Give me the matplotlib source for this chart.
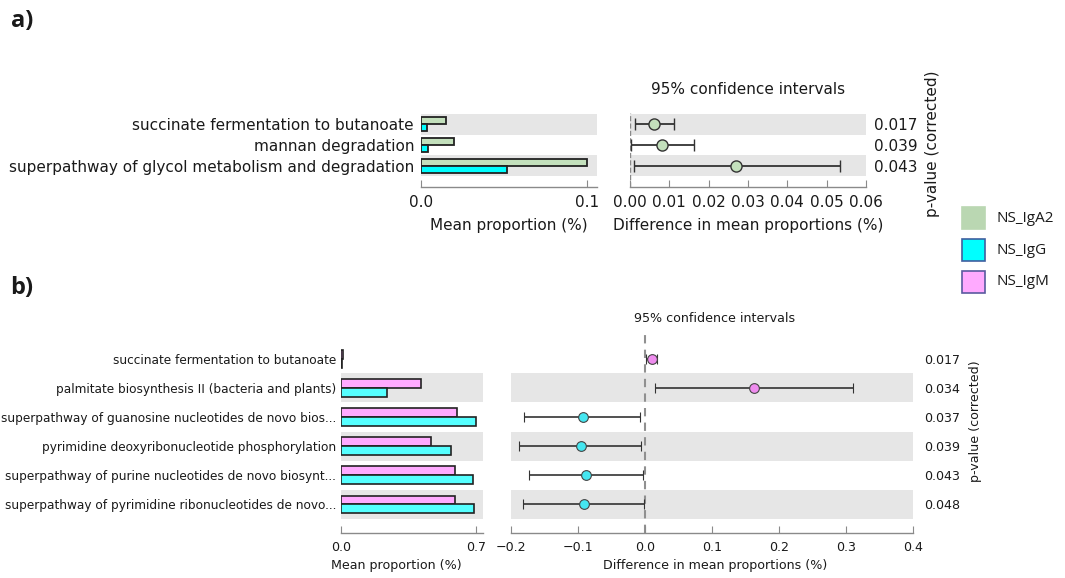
import matplotlib
matplotlib.use("Agg")
import matplotlib.pyplot as plt
from matplotlib.patches import Rectangle
import numpy as np

# ---------------- data ----------------
features_a = ["succinate fermentation to butanoate",
              "mannan degradation",
              "superpathway of glycol metabolism and degradation"]
iga2_a = [0.0151, 0.0198, 0.1000]
igg_a = [0.0035, 0.0044, 0.0519]
diff_a = [0.0062, 0.0082, 0.0270]
ci_low_a = [0.0013, 0.0003, 0.0009]
ci_high_a = [0.0113, 0.0162, 0.0533]
pvals_a = ["0.017", "0.039", "0.043"]

features_b = ["succinate fermentation to butanoate",
              "palmitate biosynthesis II (bacteria and plants)",
              "superpathway of guanosine nucleotides de novo bios...",
              "pyrimidine deoxyribonucleotide phosphorylation",
              "superpathway of purine nucleotides de novo biosynt...",
              "superpathway of pyrimidine ribonucleotides de novo..."]
igm_b = [0.012, 0.413, 0.600, 0.468, 0.593, 0.589]
igg_b = [0.003, 0.237, 0.700, 0.572, 0.686, 0.688]
diff_b = [0.010, 0.162, -0.093, -0.096, -0.088, -0.091]
ci_low_b = [0.001, 0.015, -0.181, -0.188, -0.173, -0.182]
ci_high_b = [0.018, 0.310, -0.007, -0.006, -0.003, -0.001]
pvals_b = ["0.017", "0.034", "0.037", "0.039", "0.043", "0.048"]

groups = ["NS_IgA2", "NS_IgG", "NS_IgM"]

# ---------------- style ----------------
GREEN = "#c3e0bc"
GREEN_LEG = "#bad7b2"
CYAN_A = "#00ffff"
CYAN_B = "#55ffff"
CYAN_PT = "#45e6f0"
PINK = "#ffaaff"
PINK_PT = "#ee8cee"
BAND = "#e6e6e6"
EDGE = "#222222"
SPINE = "#8a8a8a"
TXT = "#1a1a1a"
FA = 11     # panel a font size
FB = 9.1    # panel b font size
FB_LAB = 8.7  # panel b row label size

W, H = 1065, 578
fig = plt.figure(figsize=(W / 100, H / 100), dpi=100)


def box(l, t, r, b):
    return [l / W, 1 - b / H, (r - l) / W, (b - t) / H]


def ftext(x, y, s, **kw):
    kw.setdefault("color", TXT)
    fig.text(x / W, 1 - y / H, s, **kw)


def style_axis(ax, fs):
    for side in ["left", "right", "top"]:
        ax.spines[side].set_visible(False)
    ax.spines["bottom"].set_color(SPINE)
    ax.spines["bottom"].set_linewidth(1.0)
    ax.tick_params(axis="x", direction="in", length=5, color=SPINE,
                   labelsize=fs, labelcolor=TXT, pad=6)
    ax.tick_params(axis="y", length=0)
    ax.set_facecolor("none")


def shade(ax, n):
    for i in range(n):
        if (n - 1 - i) % 2 == 0:
            ax.axhspan(i - 0.5, i + 0.5, color=BAND, zorder=0, lw=0)


# ================= panel a =================
na = len(features_a)
ya = np.arange(na)
ha = 0.34

axa1 = fig.add_axes(box(421, 113, 597, 187))
shade(axa1, na)
axa1.barh(ya - ha / 2, iga2_a, height=ha, color=GREEN, edgecolor=EDGE, lw=1.3, zorder=2)
axa1.barh(ya + ha / 2, igg_a, height=ha, color=CYAN_A, edgecolor=EDGE, lw=1.3, zorder=2)
axa1.set_xlim(0, 0.106)
axa1.set_ylim(na - 1 + 1.02, -0.54)
axa1.set_xticks([0.0, 0.1])
axa1.set_xticklabels(["0.0", "0.1"])
axa1.set_yticks(ya)
axa1.set_yticklabels(features_a, fontsize=FA, color=TXT)
style_axis(axa1, FA)
axa1.tick_params(axis="y", length=0, pad=5)

axa2 = fig.add_axes(box(630, 113, 866, 187))
shade(axa2, na)
axa2.axvline(0, color=SPINE, ls="--", lw=1.0, zorder=1)
axa2.errorbar(diff_a, ya,
              xerr=[np.array(diff_a) - np.array(ci_low_a), np.array(ci_high_a) - np.array(diff_a)],
              fmt="o", ms=8, mfc=GREEN, mec="#333333", mew=1.0,
              ecolor="#333333", elinewidth=1.3, capsize=4, capthick=1.3, zorder=3)
axa2.set_xlim(0, 0.06)
axa2.set_ylim(na - 1 + 1.02, -0.54)
axa2.set_xticks(np.arange(0, 0.061, 0.01))
axa2.set_xticklabels([f"{v:.2f}" for v in np.arange(0, 0.061, 0.01)])
axa2.yaxis.tick_right()
axa2.set_yticks(ya)
axa2.set_yticklabels(pvals_a, fontsize=FA, color=TXT)
style_axis(axa2, FA)
axa2.tick_params(axis="y", length=0, pad=6)

ftext(22, 21, "a)", fontsize=17, fontweight="bold", family="Open Sans", ha="center", va="center")
ftext(748, 89, "95% confidence intervals", fontsize=FA, ha="center", va="center")
ftext(509, 225, "Mean proportion (%)", fontsize=FA, ha="center", va="center")
ftext(748, 225, "Difference in mean proportions (%)", fontsize=FA, ha="center", va="center")
ftext(932, 144, "p-value (corrected)", fontsize=FA, rotation=90, ha="center", va="center")

# ================= panel b =================
nb = len(features_b)
yb = np.arange(nb)
hb = 0.30

axb1 = fig.add_axes(box(341, 333, 483, 533))
shade(axb1, nb)
axb1.barh(yb - hb / 2, igm_b, height=hb, color=PINK, edgecolor=EDGE, lw=1.2, zorder=2)
axb1.barh(yb + hb / 2, igg_b, height=hb, color=CYAN_B, edgecolor=EDGE, lw=1.2, zorder=2)
axb1.set_xlim(0, 0.736)
axb1.set_ylim(nb - 1 + 0.99, -0.89)
axb1.set_xticks([0.0, 0.7])
axb1.set_xticklabels(["0.0", "0.7"])
axb1.set_yticks(yb)
axb1.set_yticklabels(features_b, fontsize=FB_LAB, color=TXT)
style_axis(axb1, FB)
axb1.tick_params(axis="y", length=0, pad=3.5)

axb2 = fig.add_axes(box(511, 333, 913, 533))
shade(axb2, nb)
axb2.axvline(0, color="#909090", ls=(0, (4, 3)), lw=1.5, zorder=1)
pt_cols = [PINK_PT if d > 0 else CYAN_PT for d in diff_b]
for i in range(nb):
    axb2.errorbar([diff_b[i]], [yb[i]],
                  xerr=[[diff_b[i] - ci_low_b[i]], [ci_high_b[i] - diff_b[i]]],
                  fmt="o", ms=7, mfc=pt_cols[i], mec="#444444", mew=0.8,
                  ecolor="#333333", elinewidth=1.2, capsize=3.5, capthick=1.2, zorder=3)
axb2.set_xlim(-0.2, 0.4)
axb2.set_ylim(nb - 1 + 0.99, -0.89)
axb2.set_xticks(np.arange(-0.2, 0.41, 0.1))
axb2.set_xticklabels(["\u22120.2", "\u22120.1", "0.0", "0.1", "0.2", "0.3", "0.4"])
axb2.yaxis.tick_right()
axb2.set_yticks(yb)
axb2.set_yticklabels(pvals_b, fontsize=FB, color=TXT)
style_axis(axb2, FB)
axb2.tick_params(axis="y", length=0, pad=8)

ftext(22, 288, "b)", fontsize=17, fontweight="bold", family="Open Sans", ha="center", va="center")
ftext(715, 318, "95% confidence intervals", fontsize=FB, ha="center", va="center")
ftext(396, 566, "Mean proportion (%)", fontsize=FB, ha="center", va="center")
ftext(715, 566, "Difference in mean proportions (%)", fontsize=FB, ha="center", va="center")
ftext(975, 421, "p-value (corrected)", fontsize=FB, rotation=90, ha="center", va="center")

# ================= legend =================
leg_cols = [(GREEN_LEG, GREEN_LEG), (CYAN_A, "#3f5fa0"), (PINK, "#5a5aa0")]
leg_y = [218, 250, 282]
for (fc, ec), y, name in zip(leg_cols, leg_y, groups):
    fig.add_artist(Rectangle(((962) / W, 1 - (y + 11) / H), 23 / W, 22 / H,
                             transform=fig.transFigure, facecolor=fc, edgecolor=ec, lw=1.2))
    ftext(996, y, name, fontsize=11, family="Open Sans", ha="left", va="center")

fig.savefig("out.png", dpi=100)
